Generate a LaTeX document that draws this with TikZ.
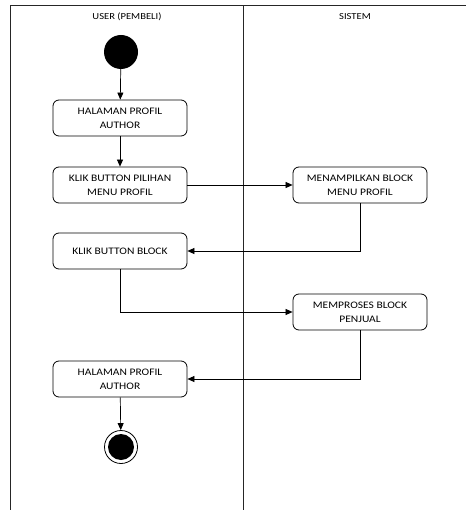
\documentclass[tikz,border=0pt]{standalone}
\usepackage{fontspec}
\setmainfont[FakeStretch=1.15]{Carlito}
\usetikzlibrary{arrows.meta}
\begin{document}
\begin{tikzpicture}[x=1pt,y=-1pt,
  lane/.style={line width=1pt,draw=black!85},
  act/.style={draw,rounded corners=6pt,line width=0.8pt,minimum width=134pt,minimum height=36pt,
    align=center,font=\fontsize{10}{14}\selectfont,inner sep=1pt},
  flow/.style={line width=0.7pt,-{Triangle[length=7pt,width=6pt]}},
  hdr/.style={font=\fontsize{9.2}{11}\selectfont}]
\useasboundingbox (0,0) rectangle (465,510);
% swimlanes
\draw[lane] (10.5,516) -- (10.5,6) -- (470,6);
\draw[lane] (243,6) -- (243,516);
\node[hdr] (h1) at (127,17) {USER (PEMBELI)};
\node[hdr] (h2) at (355,17) {SISTEM};
% start and end states
\node[circle,fill=black,minimum size=34pt,inner sep=0pt] (start) at (121,52) {};
\node[circle,draw,line width=0.8pt,minimum size=33pt,inner sep=0pt] (endo) at (121,447) {};
\node[circle,fill=black,minimum size=26pt,inner sep=0pt] (endi) at (121,447) {};
% activities
\node[act] (a1) at (120,118) {HALAMAN PROFIL\\AUTHOR};
\node[act] (a2) at (120,185) {KLIK BUTTON PILIHAN\\MENU PROFIL};
\node[act] (s1) at (360,185) {MENAMPILKAN BLOCK\\MENU PROFIL};
\node[act] (a3) at (120,251) {KLIK BUTTON BLOCK};
\node[act] (s2) at (360,312) {MEMPROSES BLOCK\\PENJUAL};
\node[act] (a4) at (120,379) {HALAMAN PROFIL\\AUTHOR};
% flows
\draw[flow] (start) -- (a1);
\draw[flow] (a1) -- (a2);
\draw[flow] (a2) -- (s1);
\draw[flow] (s1.south) |- (a3.east);
\draw[flow] (a3.south) |- (s2.west);
\draw[flow] (s2.south) |- (a4.east);
\draw[flow] (a4) -- (endo);
\end{tikzpicture}
\end{document}
